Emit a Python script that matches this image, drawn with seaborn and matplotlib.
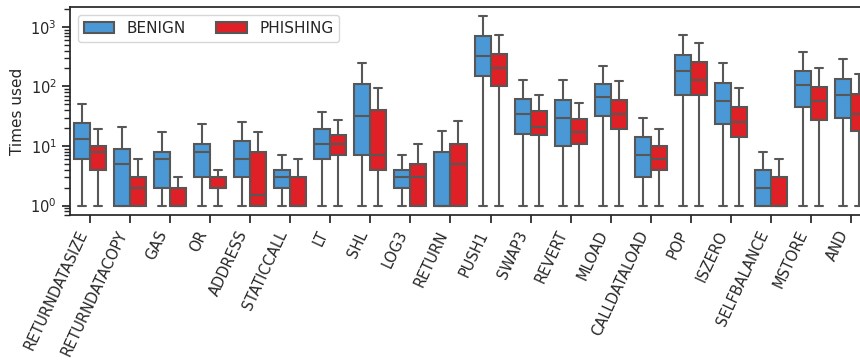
import numpy as np
import pandas as pd
import matplotlib
matplotlib.use("Agg")
import matplotlib.pyplot as plt
import seaborn as sns

# Opcode usage per contract, summarised as box statistics for each class
categories = ["RETURNDATASIZE", "RETURNDATACOPY", "GAS", "OR", "ADDRESS",
              "STATICCALL", "LT", "SHL", "LOG3", "RETURN", "PUSH1", "SWAP3",
              "REVERT", "MLOAD", "CALLDATALOAD", "POP", "ISZERO",
              "SELFBALANCE", "MSTORE", "AND"]
groups = ["BENIGN", "PHISHING"]

benign_low = [1] * 20
benign_q1 = [6, 1, 2, 3, 3, 2, 6, 7, 2, 1, 150, 16, 10, 32, 3, 71, 23, 1, 46, 30]
benign_med = [13, 5, 6, 8, 6, 3, 11, 32, 3, 1, 330, 35, 29, 66, 7, 180, 57, 2, 105, 71]
benign_q3 = [24, 9, 8, 11, 12, 4, 19, 110, 4, 8, 700, 62, 59, 109, 14, 340, 114, 4, 183, 131]
benign_high = [50, 21, 17, 23, 25, 7, 37, 250, 7, 18, 1500, 130, 130, 224, 30, 735, 248, 8, 383, 285]

phishing_low = [1] * 20
phishing_q1 = [4, 1, 1, 2, 1, 1, 7, 4, 1, 1, 100, 15, 11, 19, 4, 71, 14, 1, 27, 18]
phishing_med = [8, 2, 1, 2, 1.5, 1, 11, 7, 3, 5, 200, 21, 17, 35, 6, 126, 25, 1, 58, 35]
phishing_q3 = [10, 3, 2, 3, 8, 3, 15, 40, 5, 11, 350, 39, 28, 60, 10, 254, 45, 3, 96, 74]
phishing_high = [19, 6, 3, 4, 17, 6, 27, 93, 11, 26, 717, 73, 52, 123, 19, 527, 93, 6, 202, 163]

colors = {"BENIGN": "#4A98D6", "PHISHING": "#DF2026"}

# Long-form table: five representative values per box (min, Q1, median, Q3, max)
rows = []
stats = {
    "BENIGN": (benign_low, benign_q1, benign_med, benign_q3, benign_high),
    "PHISHING": (phishing_low, phishing_q1, phishing_med, phishing_q3, phishing_high),
}
for g in groups:
    for i, cat in enumerate(categories):
        for series in stats[g]:
            rows.append({"opcode": cat, "class": g, "count": series[i]})
df = pd.DataFrame(rows)

sns.set_theme(style="ticks")
plt.rcParams["font.family"] = ["DejaVu Sans"]

fig = plt.figure(figsize=(8.6, 3.62), dpi=100)
ax = fig.add_axes([0.0814, 0.406, 0.9314, 0.575])

sns.boxplot(data=df, x="opcode", y="count", hue="class", order=categories,
            hue_order=groups, palette=colors, saturation=1, whis=(0, 100),
            showfliers=False, linecolor="#575757", linewidth=1.5,
            log_scale=True, width=0.8, ax=ax)

ax.set_xlabel("")
ax.set_ylabel("Times used", fontsize=11)
ax.tick_params(axis="both", labelsize=10.5)
plt.setp(ax.get_xticklabels(), rotation=65, ha="right")

leg = ax.legend(loc="upper left", ncol=2, fontsize=11, frameon=True)
leg.set_title(None)

fig.savefig("out.png", dpi=100)
